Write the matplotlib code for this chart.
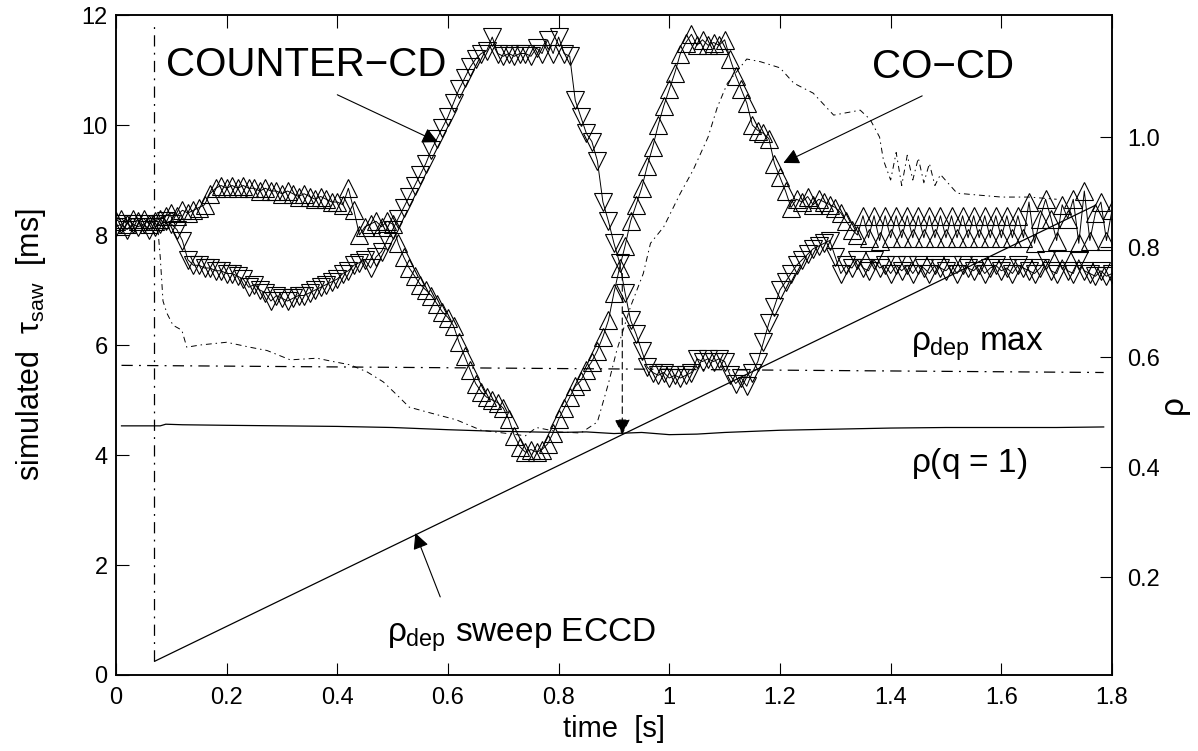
import matplotlib.pyplot as plt
from matplotlib.ticker import FixedLocator, FixedFormatter

plt.rcParams['font.family'] = ['Liberation Sans', 'DejaVu Sans']
plt.rcParams['mathtext.fontset'] = 'custom'
plt.rcParams['mathtext.rm'] = 'Liberation Sans'
plt.rcParams['mathtext.it'] = 'Liberation Sans'
plt.rcParams['mathtext.bf'] = 'Liberation Sans:bold'

# sample times [s] (shared by both simulated sawtooth series)
time_s = [
    0.00, 0.01, 0.02, 0.03, 0.04, 0.05, 0.06, 0.07, 0.08, 0.09,
    0.10, 0.11, 0.12, 0.13, 0.14, 0.15, 0.16, 0.17, 0.18, 0.19,
    0.20, 0.21, 0.22, 0.23, 0.24, 0.25, 0.26, 0.27, 0.28, 0.29,
    0.30, 0.31, 0.32, 0.33, 0.34, 0.35, 0.36, 0.37, 0.38, 0.39,
    0.40, 0.41, 0.42, 0.43, 0.44, 0.45, 0.46, 0.47, 0.48, 0.49,
    0.50, 0.51, 0.52, 0.53, 0.54, 0.55, 0.56, 0.57, 0.58, 0.59,
    0.60, 0.61, 0.62, 0.63, 0.64, 0.65, 0.66, 0.67, 0.68, 0.69,
    0.70, 0.71, 0.72, 0.73, 0.74, 0.75, 0.76, 0.77, 0.78, 0.79,
    0.80, 0.81, 0.82, 0.83, 0.84, 0.85, 0.86, 0.87, 0.88, 0.89,
    0.90, 0.91, 0.92, 0.93, 0.94, 0.95, 0.96, 0.97, 0.98, 0.99,
    1.00, 1.01, 1.02, 1.03, 1.04, 1.05, 1.06, 1.07, 1.08, 1.09,
    1.10, 1.11, 1.12, 1.13, 1.14, 1.15, 1.16, 1.17, 1.18, 1.19,
    1.20, 1.21, 1.22, 1.23, 1.24, 1.25, 1.26, 1.27, 1.28, 1.29,
    1.30, 1.31, 1.32, 1.33, 1.34, 1.35, 1.36, 1.37, 1.38, 1.39,
    1.40, 1.41, 1.42, 1.43, 1.44, 1.45, 1.46, 1.47, 1.48, 1.49,
    1.50, 1.51, 1.52, 1.53, 1.54, 1.55, 1.56, 1.57, 1.58, 1.59,
    1.60, 1.61, 1.62, 1.63, 1.64, 1.65, 1.66, 1.67, 1.68, 1.69,
    1.70, 1.71, 1.72, 1.73, 1.74, 1.75, 1.76, 1.77, 1.78, 1.79,
    1.80]

# COUNTER-CD, simulated sawtooth period [ms]
tau_counter = [
    8.15, 8.20, 8.10, 8.20, 8.15, 8.20, 8.10, 8.15, 8.20, 8.25,
    8.20, 8.10, 7.90, 7.55, 7.45, 7.45, 7.40, 7.40, 7.35, 7.35,
    7.30, 7.30, 7.25, 7.20, 7.05, 7.10, 7.00, 6.95, 6.80, 6.90,
    6.85, 6.80, 6.85, 6.90, 6.90, 6.95, 7.00, 7.05, 7.10, 7.15,
    7.20, 7.30, 7.35, 7.45, 7.50, 7.55, 7.40, 7.60, 7.70, 7.90,
    8.10, 8.30, 8.50, 8.70, 8.90, 9.10, 9.30, 9.55, 9.75, 9.95,
    10.15, 10.40, 10.65, 10.85, 11.05, 11.20, 11.30, 11.35, 11.60, 11.30,
    11.25, 11.30, 11.25, 11.30, 11.30, 11.25, 11.40, 11.30, 11.55, 11.30,
    11.60, 11.30, 11.25, 10.45, 10.15, 9.85, 9.70, 9.35, 8.60, 8.25,
    7.85, 7.50, 6.95, 6.45, 6.20, 5.90, 5.60, 5.50, 5.45, 5.50,
    5.40, 5.45, 5.40, 5.45, 5.50, 5.75, 5.70, 5.75, 5.70, 5.75,
    5.70, 5.45, 5.30, 5.40, 5.25, 5.50, 5.70, 6.05, 6.40, 6.70,
    7.00, 7.15, 7.30, 7.45, 7.55, 7.65, 7.75, 7.80, 7.85, 7.90,
    7.60, 7.30, 7.45, 7.40, 7.55, 7.40, 7.35, 7.55, 7.40, 7.45,
    7.30, 7.45, 7.35, 7.45, 7.30, 7.45, 7.40, 7.30, 7.45, 7.40,
    7.35, 7.45, 7.30, 7.45, 7.40, 7.35, 7.45, 7.30, 7.40, 7.45,
    7.35, 7.40, 7.30, 7.45, 7.40, 7.35, 7.30, 7.40, 7.55, 7.35,
    7.30, 7.55, 7.35, 7.30, 7.55, 7.35, 7.30, 7.25, 7.35, 7.25,
    7.30]

# CO-CD, simulated sawtooth period [ms]
tau_co = [
    8.25, 8.30, 8.20, 8.30, 8.25, 8.30, 8.20, 8.25, 8.30, 8.35,
    8.40, 8.35, 8.45, 8.40, 8.45, 8.50, 8.55, 8.75, 8.85, 8.90,
    8.85, 8.90, 8.85, 8.90, 8.85, 8.85, 8.80, 8.85, 8.80, 8.80,
    8.75, 8.80, 8.75, 8.70, 8.75, 8.70, 8.65, 8.70, 8.65, 8.60,
    8.60, 8.55, 8.85, 8.45, 8.00, 8.15, 8.20, 8.25, 8.15, 8.25,
    8.20, 7.85, 7.60, 7.40, 7.25, 7.10, 7.00, 6.90, 6.75, 6.60,
    6.50, 6.35, 6.05, 5.80, 5.55, 5.30, 5.15, 5.05, 5.00, 4.95,
    4.85, 4.65, 4.35, 4.15, 4.05, 4.10, 4.05, 4.10, 4.20, 4.40,
    4.65, 4.85, 5.05, 5.25, 5.35, 5.55, 5.70, 5.90, 6.15, 6.45,
    6.95, 7.40, 7.80, 8.25, 8.55, 8.85, 9.25, 9.60, 10.00, 10.35,
    10.65, 10.95, 11.30, 11.50, 11.65, 11.45, 11.55, 11.45, 11.50, 11.45,
    11.55, 11.20, 10.90, 10.65, 10.40, 10.00, 9.90, 9.85, 9.75, 9.30,
    9.05, 8.80, 8.50, 8.65, 8.60, 8.70, 8.55, 8.65, 8.60, 8.55,
    8.50, 8.40, 8.25, 8.10, 8.00, 8.35, 7.95, 8.35, 7.90, 8.35,
    7.95, 8.35, 7.95, 8.35, 7.95, 8.35, 7.95, 8.35, 7.95, 8.35,
    7.95, 8.35, 7.95, 8.35, 7.95, 8.35, 7.95, 8.35, 7.95, 8.35,
    7.95, 8.35, 7.95, 8.35, 7.95, 8.60, 7.85, 8.30, 8.65, 8.30,
    7.90, 8.55, 8.30, 8.65, 7.85, 8.80, 7.90, 8.40, 8.60, 7.90,
    8.45]

# thin dash-dot trace
t_trace = [0.075, 0.080, 0.085, 0.092, 0.103, 0.119, 0.128, 0.152, 0.200, 0.242,
           0.273, 0.315, 0.363, 0.392, 0.423, 0.454, 0.483, 0.508, 0.530, 0.570,
           0.615, 0.660, 0.700, 0.740, 0.760, 0.800, 0.840, 0.870, 0.890, 0.905,
           0.930, 0.953, 0.966, 0.990, 1.020, 1.043, 1.070, 1.087, 1.105, 1.140,
           1.165, 1.200, 1.225, 1.260, 1.297, 1.345, 1.363, 1.380, 1.387, 1.400,
           1.410, 1.420, 1.430, 1.440, 1.450, 1.460, 1.470, 1.480, 1.490, 1.520,
           1.600, 1.650, 1.700]
tau_trace = [8.20, 7.60, 6.80, 6.58, 6.36, 6.27, 5.96, 6.00, 6.05, 5.96,
             5.90, 5.73, 5.76, 5.70, 5.64, 5.51, 5.33, 5.09, 4.87, 4.76,
             4.64, 4.45, 4.40, 4.35, 4.50, 4.42, 4.40, 4.60, 5.30, 5.90,
             6.70, 7.30, 7.85, 8.15, 8.76, 9.18, 9.78, 10.33, 10.76, 11.20,
             11.15, 11.04, 10.76, 10.58, 10.18, 10.27, 10.10, 9.78, 9.36, 9.00,
             9.50, 8.90, 9.45, 9.00, 9.40, 8.95, 9.30, 8.90, 9.10, 8.76,
             8.69, 8.69, 8.65]

# rho(q=1) surface (plotted on the tau scale)
t_q1 = [0.01, 0.08, 0.09, 0.12, 0.20, 0.30, 0.40, 0.50, 0.60, 0.66, 0.70, 0.80,
        0.85, 0.90, 0.95, 1.00, 1.05, 1.10, 1.20, 1.30, 1.40, 1.50, 1.60, 1.70, 1.785]
tau_q1 = [4.53, 4.53, 4.56, 4.55, 4.54, 4.53, 4.52, 4.50, 4.46, 4.44, 4.43, 4.41,
          4.42, 4.39, 4.41, 4.37, 4.38, 4.41, 4.45, 4.47, 4.49, 4.50, 4.50, 4.50, 4.51]

# rho_dep max (horizontal dash-dot) and ECCD deposition sweep
t_depmax = [0.01, 1.785]
tau_depmax = [5.63, 5.50]
t_sweep = [0.07, 1.77]
tau_sweep = [0.25, 8.54]
t_start = [0.068, 0.068]
tau_start = [0.25, 11.85]

x_ticks = [0, 0.2, 0.4, 0.6, 0.8, 1.0, 1.2, 1.4, 1.6, 1.8]
x_tick_labels = ['0', '0.2', '0.4', '0.6', '0.8', '1', '1.2', '1.4', '1.6', '1.8']
y_ticks = [0, 2, 4, 6, 8, 10, 12]
rho_ticks = [0.2, 0.4, 0.6, 0.8, 1.0]
rho_tick_labels = ['0.2', '0.4', '0.6', '0.8', '1.0']

fig = plt.figure(figsize=(11.98, 7.51), dpi=100)
ax = fig.add_axes([0.0968, 0.1012, 0.8314, 0.8788])

# reference lines
ax.plot(t_start, tau_start, color='k', lw=0.9, ls=(0, (9, 5, 1.5, 5)))
ax.plot(t_depmax, tau_depmax, color='k', lw=0.9, ls=(0, (9, 5, 1.5, 5)))
ax.plot(t_q1, tau_q1, color='k', lw=0.9)
ax.plot(t_sweep, tau_sweep, color='k', lw=0.9)
ax.plot(t_trace, tau_trace, color='k', lw=0.7, ls=(0, (6, 4, 1.5, 4)))

# the two simulated scenarios
ax.plot(time_s, tau_counter, color='k', lw=0.7, marker='v', ms=13,
        mfc='none', mec='k', mew=0.8)
ax.plot(time_s, tau_co, color='k', lw=0.7, marker='^', ms=13,
        mfc='none', mec='k', mew=0.8)

# arrows
arrow = dict(arrowstyle='-|>', color='k', lw=0.8, mutation_scale=24,
             shrinkA=0, shrinkB=0)
ax.annotate('', xy=(0.582, 9.69), xytext=(0.40, 10.55), arrowprops=arrow)
ax.annotate('', xy=(1.206, 9.31), xytext=(1.457, 10.53), arrowprops=arrow)
ax.annotate('', xy=(0.541, 2.58), xytext=(0.586, 1.42), arrowprops=arrow)
dashed_arrow = dict(arrowstyle='-|>', color='k', lw=0.8, mutation_scale=24,
                    shrinkA=0, shrinkB=0, linestyle=(0, (6, 4)))
ax.annotate('', xy=(0.915, 4.37), xytext=(0.915, 7.3), arrowprops=dashed_arrow)

# labels in the plot
ax.text(0.09, 11.09, 'COUNTER\u2212CD', fontsize=29, va='center', ha='left')
ax.text(1.367, 11.05, 'CO\u2212CD', fontsize=29, va='center', ha='left')
ax.text(1.436, 5.9, r'$\rho_{\rm dep}$ max', fontsize=24, va='baseline')
ax.text(1.436, 3.85, r'$\rho$(q = 1)', fontsize=24, va='center')
ax.text(0.49, 0.6, r'$\rho_{\rm dep}$ sweep ECCD', fontsize=24, va='baseline')

ax.set_xlim(0, 1.8)
ax.set_ylim(0, 12)
ax.xaxis.set_major_locator(FixedLocator(x_ticks))
ax.xaxis.set_major_formatter(FixedFormatter(x_tick_labels))
ax.set_yticks(y_ticks)
ax.tick_params(axis='both', direction='in', length=9, width=0.8, labelsize=17,
               top=True, right=False)
ax.tick_params(axis='x', pad=9)
ax.tick_params(axis='y', pad=6)
ax.set_xlabel('time  [s]', fontsize=21)
ax.set_ylabel(r'simulated  $\tau_{\rm saw}$  [ms]', fontsize=22)
ax.xaxis.set_label_coords(0.5, -0.06)
ax.yaxis.set_label_coords(-0.068, 0.5)

# right axis: normalised radius rho
ax2 = ax.twinx()
ax2.set_ylim(0.022, 1.222)
ax2.yaxis.set_major_locator(FixedLocator(rho_ticks))
ax2.yaxis.set_major_formatter(FixedFormatter(rho_tick_labels))
ax2.tick_params(axis='y', direction='in', length=9, width=0.8, labelsize=17, pad=11)
ax2.set_ylabel(r'$\rho$', fontsize=24)
ax2.yaxis.set_label_coords(1.05, 0.405)

for a in (ax, ax2):
    for s in a.spines.values():
        s.set_linewidth(1.1)

fig.savefig('out.png', dpi=100)
